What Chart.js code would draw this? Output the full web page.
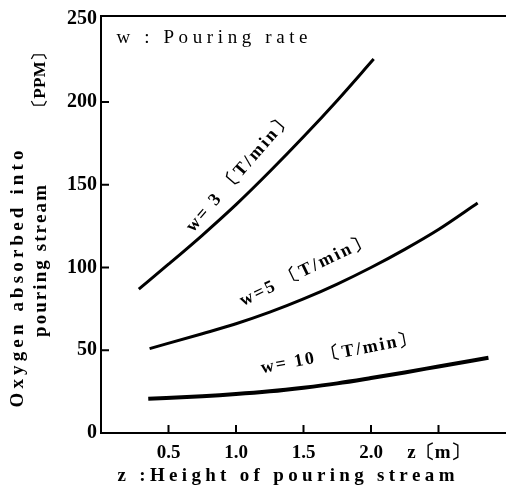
<!DOCTYPE html>
<html lang="en">
<head>
    <meta charset="UTF-8">
    <title>Oxygen absorbed into pouring stream</title>
    <script src="https://cdn.jsdelivr.net/npm/chart.js"></script>
    <style>
        body {
            margin: 0;
            background: #fff;
        }
        #wrap {
            width: 506px;
            height: 489px;
        }
    </style>
</head>
<body>
    <div id="wrap">
        <canvas id="grafica" width="506" height="489"></canvas>
    </div>

    <script>
        // valores
        const zW3 = [0.28, 0.5, 0.75, 1.0, 1.25, 1.5, 1.75, 2.02];
        const ppmW3 = [87, 102, 119.5, 138, 158, 179, 201, 226];

        const zW5 = [0.36, 0.75, 1.0, 1.25, 1.5, 1.75, 2.0, 2.25, 2.5, 2.79];
        const ppmW5 = [51, 60, 66, 73, 81, 90, 100, 111, 123, 139];

        const zW10 = [0.35, 0.75, 1.0, 1.25, 1.5, 1.75, 2.0, 2.25, 2.5, 2.87];
        const ppmW10 = [20.7, 22.2, 23.5, 25.2, 27.4, 30.0, 33.2, 36.6, 40.2, 45.5];

        const xTicks = [0.5, 1.0, 1.5, 2.0, 2.5];
        const xTickLabels = ['0.5', '1.0', '1.5', '2.0', 'z〔m〕'];
        const yTicks = [0, 50, 100, 150, 200, 250];

        const toPoints = (xs, ys) => xs.map((x, i) => ({ x: x, y: ys[i] }));

        // texto con espaciado repartido para llenar un ancho dado
        function spacedText(ctx, text, cx, cy, width, angle, font) {
            ctx.save();
            ctx.font = font;
            ctx.fillStyle = '#000';
            ctx.textBaseline = 'middle';
            ctx.textAlign = 'left';
            ctx.translate(cx, cy);
            ctx.rotate(angle * Math.PI / 180);
            const chars = Array.from(text);
            const widths = chars.map(c => ctx.measureText(c).width);
            const total = widths.reduce((a, b) => a + b, 0);
            const w = Math.max(width, total);
            const gap = chars.length > 1 ? (w - total) / (chars.length - 1) : 0;
            let x = -w / 2;
            chars.forEach((c, i) => {
                ctx.fillText(c, x, 0);
                x += widths[i] + gap;
            });
            ctx.restore();
        }

        const marco = {
            id: 'marco',
            afterDraw(chart) {
                const ctx = chart.ctx;
                const a = chart.chartArea;
                const xs = chart.scales.x;
                const ys = chart.scales.y;
                ctx.save();
                ctx.strokeStyle = '#000';
                ctx.lineWidth = 2;
                ctx.beginPath();
                ctx.moveTo(a.left, a.top - 1);
                ctx.lineTo(a.left, a.bottom + 1);
                ctx.moveTo(a.left - 1, a.bottom);
                ctx.lineTo(a.right, a.bottom);
                ctx.moveTo(a.left - 1, a.top);
                ctx.lineTo(a.right, a.top);
                // marcas hacia dentro
                yTicks.slice(1, 5).forEach(v => {
                    const y = ys.getPixelForValue(v);
                    ctx.moveTo(a.left, y);
                    ctx.lineTo(a.left + 8, y);
                });
                xTicks.forEach(v => {
                    const x = xs.getPixelForValue(v);
                    ctx.moveTo(x, a.bottom);
                    ctx.lineTo(x, a.bottom - 8);
                });
                ctx.stroke();
                ctx.restore();

                const px = (x, y) => [xs.getPixelForValue(x), ys.getPixelForValue(y)];

                spacedText(ctx, 'w : Pouring rate', 212, 38, 191, 0, '19px "Liberation Serif"');

                let p = px(1.02, 157);
                spacedText(ctx, 'w= 3 〔T/min〕', p[0], p[1], 150, -49, 'bold 18px "Liberation Serif"');
                p = px(1.51, 98);
                spacedText(ctx, 'w=5 〔T/min〕', p[0], p[1], 142, -26, 'bold 18px "Liberation Serif"');
                p = px(1.76, 48);
                spacedText(ctx, 'w= 10 〔T/min〕', p[0], p[1], 158, -11, 'bold 18px "Liberation Serif"');

                spacedText(ctx, 'Oxygen absorbed into', 18, 279, 257, -90, 'bold 19px "Liberation Serif"');
                spacedText(ctx, 'pouring stream', 41, 261, 152, -90, 'bold 19px "Liberation Serif"');
                spacedText(ctx, '〔PPM〕', 41, 80, 72, -90, 'bold 17px "Liberation Serif"');

                spacedText(ctx, 'z :Height of pouring stream', 286, 476, 337, 0, 'bold 19px "Liberation Serif"');
            }
        };

        const ctx = document.getElementById('grafica').getContext('2d');

        const serie = (xs, ys, w) => ({
            data: toPoints(xs, ys),
            borderColor: '#000',
            borderWidth: w,
            pointRadius: 0,
            cubicInterpolationMode: 'monotone',
            fill: false
        });

        const grafica = new Chart(ctx, {
            type: 'line',
            data: {
                datasets: [
                    serie(zW3, ppmW3, 3),
                    serie(zW5, ppmW5, 3),
                    serie(zW10, ppmW10, 4)
                ]
            },
            options: {
                responsive: false,
                animation: false,
                layout: { padding: { top: 14, right: 0, left: 0, bottom: 0 } },
                plugins: {
                    legend: { display: false },
                    tooltip: { enabled: false }
                },
                scales: {
                    x: {
                        type: 'linear',
                        min: 0,
                        max: 3.0,
                        afterBuildTicks: s => { s.ticks = xTicks.map(v => ({ value: v })); },
                        afterFit: s => { s.height = 56; },
                        grid: { display: false, drawTicks: false },
                        border: { display: false },
                        ticks: {
                            padding: 9,
                            color: '#000',
                            maxRotation: 0,
                            autoSkip: false,
                            font: { family: 'Liberation Serif', size: 19, weight: 'bold' },
                            callback: v => {
                                const i = xTicks.indexOf(v);
                                return i >= 0 ? xTickLabels[i] : '';
                            }
                        }
                    },
                    y: {
                        min: 0,
                        max: 252,
                        afterBuildTicks: s => { s.ticks = yTicks.map(v => ({ value: v })); },
                        afterFit: s => { s.width = 101; },
                        grid: { display: false, drawTicks: false },
                        border: { display: false },
                        ticks: {
                            padding: 4,
                            color: '#000',
                            font: { family: 'Liberation Serif', size: 20, weight: 'bold' }
                        }
                    }
                }
            },
            plugins: [marco]
        });
    </script>
</body>
</html>
